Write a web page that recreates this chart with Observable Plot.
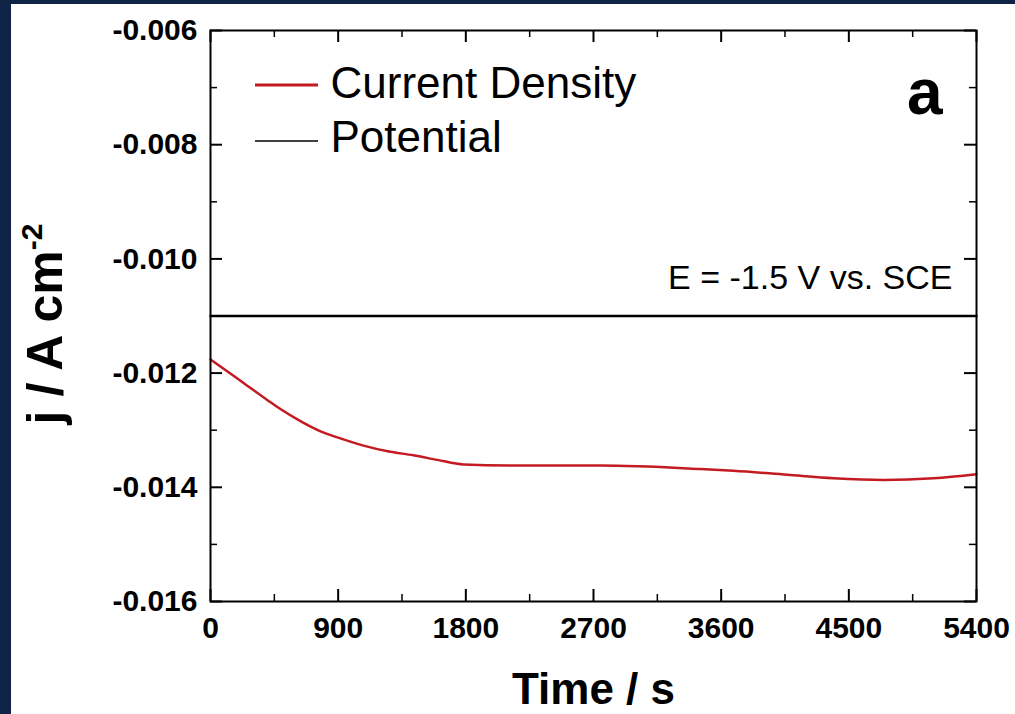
<!DOCTYPE html>
<html>
<head>
<meta charset="utf-8">
<script src="https://cdn.jsdelivr.net/npm/d3@7"></script>
<script src="https://cdn.jsdelivr.net/npm/@observablehq/plot@0.6"></script>
<style>
  html, body { margin: 0; padding: 0; background: #0f2346; width: 1015px; height: 714px; overflow: hidden; }
  #panel { position: absolute; left: 11px; top: 4px; width: 1004px; height: 710px; background: #ffffff; }
  #panel svg { display: block; }
</style>
</head>
<body>
<div id="panel"></div>
<script>
// ---- data ----
const timeS = [0, 130, 259, 400, 493, 640, 776, 900, 1079, 1250, 1431, 1600, 1784, 2100, 2749, 3454, 3687, 4066, 4392, 4745, 5097, 5400];
const currentDensity = [-0.01176, -0.01199, -0.01222, -0.01247, -0.01263, -0.01285, -0.01302, -0.01313, -0.01327, -0.01337, -0.01344, -0.01352, -0.01360, -0.01362, -0.01362, -0.01368, -0.01371, -0.01378, -0.01384, -0.01387, -0.01384, -0.01377];
const potentialTime = [0, 5400];
const potentialLevel = [-0.011, -0.011];
const xTicks = [0, 900, 1800, 2700, 3600, 4500, 5400];
const xMinorTicks = [450, 1350, 2250, 3150, 4050, 4950];
const yTicks = [-0.016, -0.014, -0.012, -0.010, -0.008, -0.006];
const yMinorTicks = [-0.015, -0.013, -0.011, -0.009, -0.007];
const seriesNames = ["Current Density", "Potential"];
const annotation = "E = -1.5 V vs. SCE";
const panelLabel = "a";
const xLabel = "Time / s";
const yLabel = "j / A cm";
const yLabelSup = "-2";

const curve = timeS.map((t, i) => ({t, j: currentDensity[i]}));
const pot = potentialTime.map((t, i) => ({t, j: potentialLevel[i]}));

const W = 1004, H = 710;
const mL = 199, mT = 26, mR = 39, mB = 113;
const fw = W - mL - mR, fh = H - mT - mB;
const red = "#c41a22";
const font = "'Liberation Sans', Arial, Helvetica, sans-serif";

const chart = Plot.plot({
  width: W, height: H,
  marginLeft: mL, marginTop: mT, marginRight: mR, marginBottom: mB,
  style: {fontFamily: font, background: "#ffffff", color: "#000000", overflow: "visible"},
  x: {domain: [0, 5400]},
  y: {domain: [-0.016, -0.006]},
  marks: [
    // ticks (inward) on all sides
    Plot.tickX(xTicks, {x: d => d, insetTop: fh - 12, stroke: "#000", strokeWidth: 2}),
    Plot.tickX(xTicks, {x: d => d, insetBottom: fh - 12, stroke: "#000", strokeWidth: 2}),
    Plot.tickX(xMinorTicks, {x: d => d, insetTop: fh - 7, stroke: "#000", strokeWidth: 1.5}),
    Plot.tickX(xMinorTicks, {x: d => d, insetBottom: fh - 7, stroke: "#000", strokeWidth: 1.5}),
    Plot.tickY(yTicks, {y: d => d, insetRight: fw - 12, stroke: "#000", strokeWidth: 2}),
    Plot.tickY(yTicks, {y: d => d, insetLeft: fw - 12, stroke: "#000", strokeWidth: 2}),
    Plot.tickY(yMinorTicks, {y: d => d, insetRight: fw - 7, stroke: "#000", strokeWidth: 1.5}),
    Plot.tickY(yMinorTicks, {y: d => d, insetLeft: fw - 7, stroke: "#000", strokeWidth: 1.5}),
    // axes labels
    Plot.axisX(xTicks, {anchor: "bottom", tickSize: 0, tickPadding: 15, fontSize: 30, fontWeight: "bold", label: null, tickFormat: d => String(d)}),
    Plot.axisY(yTicks, {anchor: "left", tickSize: 0, tickPadding: 13, fontSize: 30, fontWeight: "bold", label: null, tickFormat: d => d.toFixed(3)}),
    // series
    Plot.line(pot, {x: "t", y: "j", stroke: "#000", strokeWidth: 2.5}),
    Plot.line(curve, {x: "t", y: "j", stroke: red, strokeWidth: 2.5, curve: "monotone-x"}),
    Plot.frame({stroke: "#000", strokeWidth: 2}),
    // texts
    Plot.text([seriesNames[0]], {text: d => d, frameAnchor: "top-left", textAnchor: "start", lineAnchor: "bottom", dx: 120, dy: 67, fontSize: 44}),
    Plot.text([seriesNames[1]], {text: d => d, frameAnchor: "top-left", textAnchor: "start", lineAnchor: "bottom", dx: 120, dy: 121, fontSize: 44}),
    Plot.text([panelLabel], {text: d => d, frameAnchor: "top-right", textAnchor: "end", lineAnchor: "bottom", dx: -34, dy: 83, fontSize: 64, fontWeight: "bold"}),
    Plot.text([annotation], {text: d => d, frameAnchor: "top-right", textAnchor: "end", lineAnchor: "bottom", dx: -24, dy: 258, fontSize: 34}),
    Plot.text([xLabel], {text: d => d, frameAnchor: "bottom", textAnchor: "middle", lineAnchor: "bottom", dy: 102, fontSize: 44, fontWeight: "bold"}),
    Plot.text([yLabel], {text: d => d, frameAnchor: "left", textAnchor: "middle", lineAnchor: "bottom", rotate: -90, dx: -149, dy: 8, fontSize: 50, fontWeight: "bold"})
  ]
});

const svg = d3.select(chart);
// superscript on y label
svg.selectAll("text").filter(function() { return this.textContent === yLabel; })
  .append("tspan").attr("font-size", 30).attr("dy", -20).text(yLabelSup);
// legend sample lines
const leg = svg.append("g").attr("aria-label", "legend swatches");
leg.append("line").attr("x1", 244).attr("x2", 307).attr("y1", 81).attr("y2", 81).attr("stroke", red).attr("stroke-width", 3);
leg.append("line").attr("x1", 244).attr("x2", 307).attr("y1", 137).attr("y2", 137).attr("stroke", "#000").attr("stroke-width", 1.5);

document.getElementById("panel").appendChild(chart);
</script>
</body>
</html>
